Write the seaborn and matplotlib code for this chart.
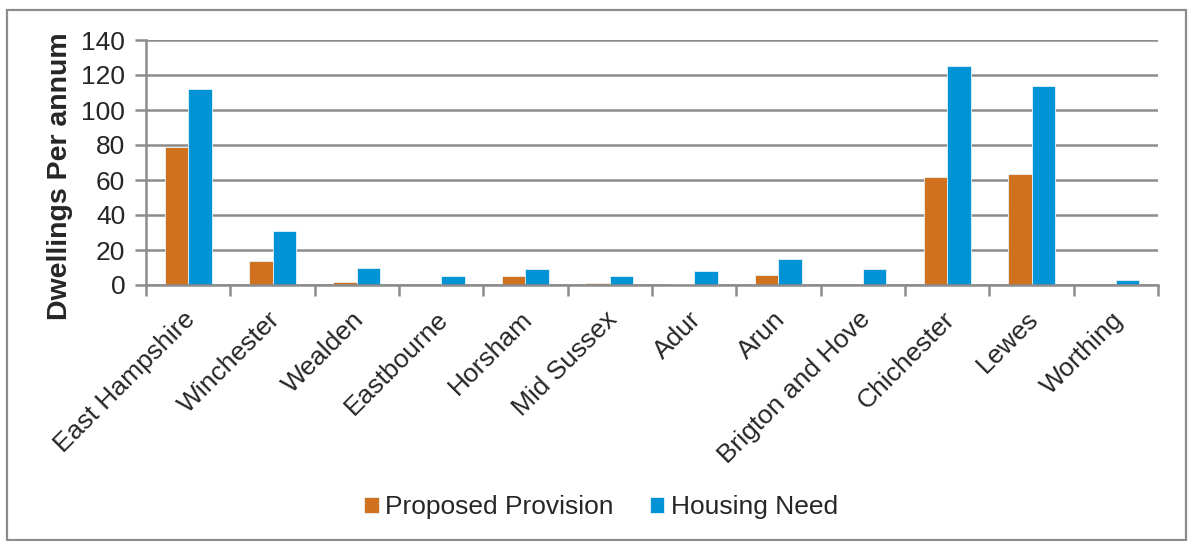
import matplotlib
matplotlib.use("Agg")
import matplotlib.pyplot as plt
import matplotlib.transforms as mtransforms
from matplotlib.patches import Rectangle
from matplotlib.ticker import FixedLocator
import seaborn as sns
import pandas as pd

districts = ["East Hampshire", "Winchester", "Wealden", "Eastbourne", "Horsham",
             "Mid Sussex", "Adur", "Arun", "Brigton and Hove", "Chichester",
             "Lewes", "Worthing"]
proposed_provision = [79, 13.5, 2, 0, 5, 1, 0.4, 5.7, 0, 61.5, 63.5, 0]
housing_need = [112, 31, 10, 5, 9, 5, 8, 15, 9, 125, 114, 3]
series_names = ["Proposed Provision", "Housing Need"]
y_ticks = [0, 20, 40, 60, 80, 100, 120, 140]

df = pd.DataFrame({
    "District": districts * 2,
    "Series": [series_names[0]] * len(districts) + [series_names[1]] * len(districts),
    "Value": proposed_provision + housing_need,
})

sns.set_style("white")
plt.rcParams["font.family"] = ["Liberation Sans", "DejaVu Sans"]

grid_col = "#8c8c8c"
fig = plt.figure(figsize=(11.93, 5.41), dpi=100)
ax = fig.add_axes([146 / 1193, 1 - 285 / 541, (1158 - 146) / 1193, (285 - 40) / 541])

sns.barplot(data=df, x="District", y="Value", hue="Series", order=districts,
            hue_order=series_names, palette=["#D0711E", "#0093D6"], saturation=1,
            width=0.56, edgecolor="#e8f2f8", linewidth=0.6, ax=ax, legend=True)

ax.set_xlim(-0.5, len(districts) - 0.5)
ax.set_ylim(0, 140)
ax.set_yticks(y_ticks)
ax.set_yticklabels([str(t) for t in y_ticks], fontsize=19)
ax.yaxis.grid(True, color=grid_col, linewidth=1.8)
ax.set_axisbelow(True)

for s in ["top", "right"]:
    ax.spines[s].set_visible(False)
for s in ["left", "bottom"]:
    ax.spines[s].set_color(grid_col)
    ax.spines[s].set_linewidth(1.8)

ax.tick_params(axis="y", which="major", length=8, width=1.8, color=grid_col, pad=7, left=True)
ax.tick_params(axis="x", which="major", length=0, pad=16)
ax.xaxis.set_minor_locator(FixedLocator([i + 0.5 for i in range(-1, len(districts))]))
ax.tick_params(axis="x", which="minor", length=8, width=1.8, color=grid_col, bottom=True)
ax.set_xticks(range(len(districts)))
ax.set_xticklabels(districts, rotation=45, ha="right", rotation_mode="anchor", fontsize=19)
shift = mtransforms.ScaledTranslation(-5 / 100, 0, fig.dpi_scale_trans)
for lbl in ax.get_xticklabels():
    lbl.set_transform(lbl.get_transform() + shift)

ax.set_xlabel("")
ax.set_ylabel("Dwellings Per annum", fontsize=20.5, fontweight="bold")
ax.yaxis.set_label_coords(-0.072, 0.445)

leg = ax.legend(loc="center", bbox_to_anchor=(601 / 1193, 1 - 507 / 541), bbox_transform=fig.transFigure,
                ncol=2, frameon=False, fontsize=19, handlelength=0.55, handleheight=0.55,
                handletextpad=0.25, columnspacing=1.35)

fig.patches.append(Rectangle((7 / 1193, 0.002), (1186 - 7) / 1193, 1 - 10 / 541 - 0.002,
                             transform=fig.transFigure, fill=False,
                             edgecolor=grid_col, linewidth=1.6))

fig.savefig("out.png", dpi=100)
